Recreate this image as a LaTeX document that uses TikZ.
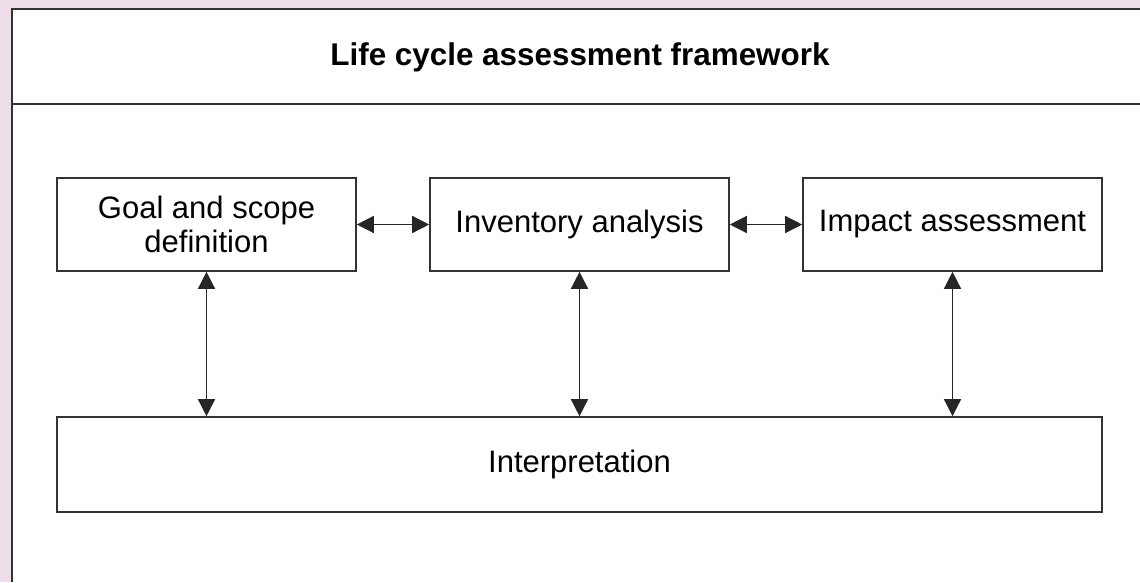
\documentclass[tikz,border=0pt]{standalone}
\usepackage{fontspec}
\setmainfont{Liberation Sans}
\usetikzlibrary{positioning}
\usetikzlibrary{arrows.meta}
\definecolor{framepink}{RGB}{237,221,233}
\tikzset{stage/.style={rectangle,draw=black!80,line width=1.6pt,fill=white,
minimum width=299pt, minimum height=93pt, align=center, inner sep=2pt,
font=\fontsize{31}{34}\selectfont},
wide/.style={stage,minimum width=1045pt,minimum height=95pt},
title/.style={rectangle, inner sep=0pt, font=\fontsize{31.4}{34}\selectfont\bfseries},
link/.style={color=black!85, line width=1.4pt},
>={Triangle[length=17pt,width=17pt]}}

\begin{document}
\begin{tikzpicture}[x=1pt,y=-1pt]
  \useasboundingbox (0,0) rectangle (1140,582);
  % page edge and frame
  \fill [framepink] (0,0) rectangle (1140,9);
  \fill [framepink] (0,0) rectangle (12,582);
  \draw [black!80, line width=1.8pt] (12,582) -- (12,9) -- (1140,9);
  \draw [black!80, line width=1.8pt] (12,104) -- (1140,104);
  \node (head) [title] at (580,57) {Life cycle assessment framework};
  % stages
  \node (goal) [stage] at (206.5,224.5) {Goal and scope\\definition};
  \node (inv) [stage, right=72.4pt of goal] {Inventory analysis};
  \node (imp) [stage, right=72.4pt of inv] {Impact assessment};
  \node (interp) [wide] at (579.5,464.5) {Interpretation};
  \draw [link,<->] (goal) -- (inv);
  \draw [link,<->] (inv) -- (imp);
  \draw [link,<->] (goal.south) -- (goal.south |- interp.north);
  \draw [link,<->] (inv.south) -- (inv.south |- interp.north);
  \draw [link,<->] (imp.south) -- (imp.south |- interp.north);
\end{tikzpicture}
\end{document}
